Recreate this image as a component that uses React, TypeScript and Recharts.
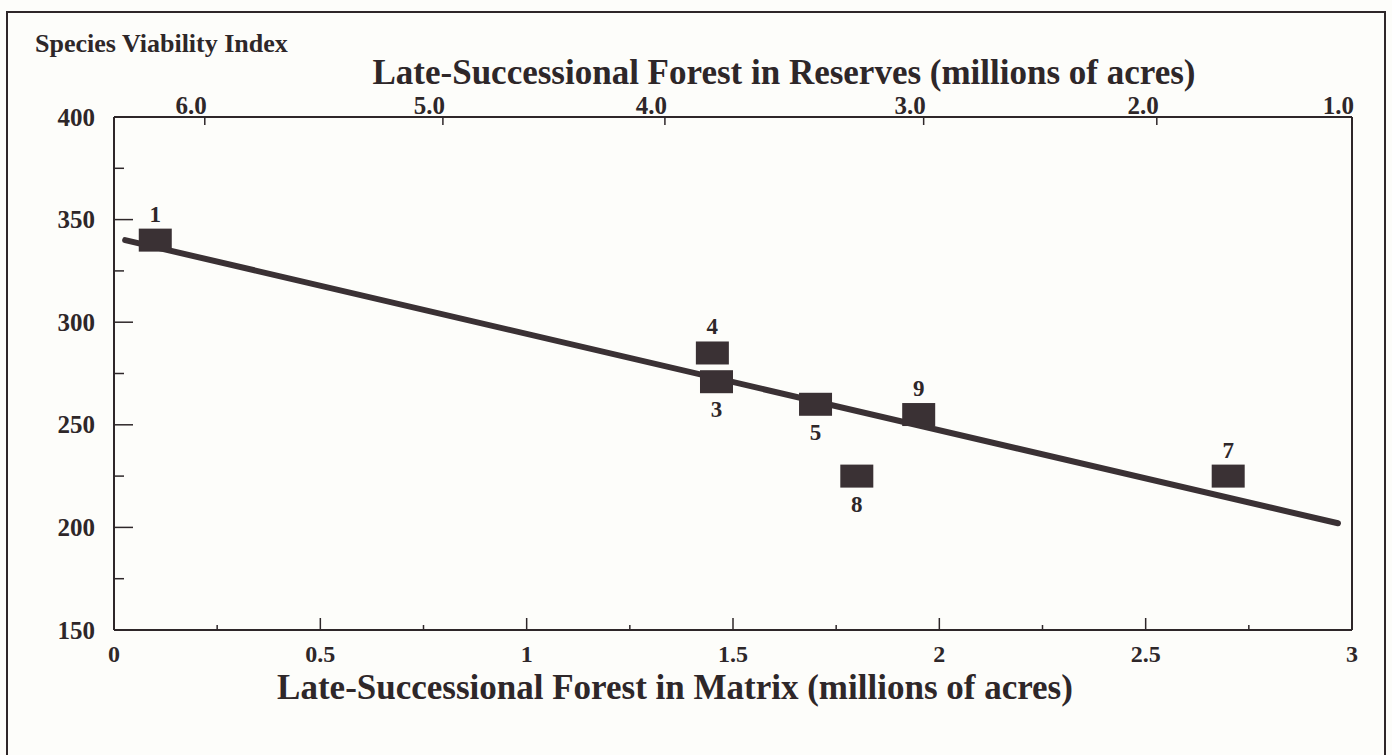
import React from 'react';
import { ComposedChart, Scatter, XAxis, YAxis } from 'recharts';

// ---- data ----
const alternativeLabels = ['1', '3', '4', '5', '7', '8', '9'];
const matrixAcres = [0.1, 1.46, 1.45, 1.7, 2.7, 1.8, 1.95];
const viabilityIndex = [340, 271, 285, 260, 225, 225, 255];
const labelSide = ['above', 'below', 'above', 'below', 'above', 'below', 'above'];

const trendMatrix = [0.027, 2.966];
const trendIndex = [340, 202];

const bottomTicks = [0, 0.25, 0.5, 0.75, 1, 1.25, 1.5, 1.75, 2, 2.25, 2.5, 2.75, 3];
const bottomTickLabels = ['0', '', '0.5', '', '1', '', '1.5', '', '2', '', '2.5', '', '3'];
const yTicks = [150, 175, 200, 225, 250, 275, 300, 325, 350, 375, 400];
const yTickLabels = ['150', '', '200', '', '250', '', '300', '', '350', '', '400'];
const reserveTickPositions = [0.22, 0.797, 1.335, 1.962, 2.527, 3.0];
const reserveTickLabels = ['6.0', '5.0', '4.0', '3.0', '2.0', '1.0'];

const points = alternativeLabels.map((label, i) => ({
  x: matrixAcres[i],
  y: viabilityIndex[i],
  label,
  side: labelSide[i],
}));
const trend = trendMatrix.map((x, i) => ({ x, y: trendIndex[i] }));

const INK = '#2e2729';
const MARK = '#3a3134';
const FONT = '"Liberation Serif", "Times New Roman", serif';

const YTick = (props: any) => {
  const { x, y, payload } = props;
  const idx = yTicks.indexOf(payload.value);
  const label = idx >= 0 ? yTickLabels[idx] : '';
  const major = label !== '';
  return (
    <g>
      <line x1={x} y1={y} x2={x + (major ? 19 : 10)} y2={y} stroke={INK} strokeWidth={1.5} />
      {major && (
        <text x={x - 19} y={y} textAnchor="end" dominantBaseline="central" fontFamily={FONT} fontWeight="bold" fontSize={25} fill={INK}>
          {label}
        </text>
      )}
    </g>
  );
};

const BottomTick = (props: any) => {
  const { x, y, payload } = props;
  const idx = bottomTicks.indexOf(payload.value);
  const label = idx >= 0 ? bottomTickLabels[idx] : '';
  const major = label !== '';
  return (
    <g>
      <line x1={x} y1={y} x2={x} y2={y - (major ? 12 : 5)} stroke={INK} strokeWidth={1.5} />
      {major && (
        <text x={x} y={y + 32} textAnchor="middle" fontFamily={FONT} fontWeight="bold" fontSize={24} fill={INK}>
          {label}
        </text>
      )}
    </g>
  );
};

const TopTick = (props: any) => {
  const { x, y, payload } = props;
  const idx = reserveTickPositions.indexOf(payload.value);
  const label = idx >= 0 ? reserveTickLabels[idx] : '';
  return (
    <g>
      <line x1={x} y1={y} x2={x} y2={y + 8} stroke={INK} strokeWidth={1.5} />
      <text x={x + 2} y={y - 3} textAnchor="end" fontFamily={FONT} fontWeight="bold" fontSize={25} fill={INK}>
        {label}
      </text>
    </g>
  );
};

const SquareMarker = (props: any) => {
  const { cx, cy, payload } = props;
  const w = 33;
  const h = 23;
  const above = payload.side === 'above';
  return (
    <g>
      <rect x={cx - w / 2} y={cy - h / 2} width={w} height={h} fill={MARK} />
      <text
        x={cx}
        y={above ? cy - h / 2 - 7 : cy + h / 2 + 24}
        textAnchor="middle"
        fontFamily={FONT}
        fontWeight="bold"
        fontSize={23}
        fill={INK}
      >
        {payload.label}
      </text>
    </g>
  );
};

const NoMarker = () => <g />;

export default function App() {
  return (
    <div style={{ position: 'absolute', left: 0, top: 0, width: 1392, height: 755, background: '#fdfdfa', overflow: 'hidden' }}>
      <div
        style={{
          position: 'absolute',
          left: 6,
          top: 11,
          width: 1376,
          height: 800,
          borderLeft: `2px solid ${INK}`,
          borderTop: `2px solid ${INK}`,
          borderRight: `2px solid ${INK}`,
        }}
      />
      <div style={{ position: 'absolute', left: 0, top: 0 }}>
        <ComposedChart width={1392} height={755} margin={{ top: 97, right: 39, bottom: 95, left: 54 }}>
          <XAxis
            xAxisId="bottom"
            dataKey="x"
            type="number"
            domain={[0, 3]}
            ticks={bottomTicks}
            interval={0}
            height={30}
            tickSize={0}
            tickMargin={0}
            tickLine={false}
            axisLine={{ stroke: INK, strokeWidth: 2 }}
            tick={<BottomTick />}
          />
          <XAxis
            xAxisId="top"
            orientation="top"
            dataKey="x"
            type="number"
            domain={[0, 3]}
            ticks={reserveTickPositions}
            interval={0}
            height={20}
            tickSize={0}
            tickMargin={0}
            tickLine={false}
            axisLine={{ stroke: INK, strokeWidth: 2 }}
            tick={<TopTick />}
          />
          <YAxis
            yAxisId="left"
            dataKey="y"
            type="number"
            domain={[150, 400]}
            ticks={yTicks}
            interval={0}
            width={60}
            tickSize={0}
            tickMargin={0}
            tickLine={false}
            axisLine={{ stroke: INK, strokeWidth: 2 }}
            tick={<YTick />}
          />
          <YAxis
            yAxisId="right"
            orientation="right"
            dataKey="y"
            type="number"
            domain={[150, 400]}
            width={1}
            tick={false}
            tickLine={false}
            axisLine={{ stroke: INK, strokeWidth: 2 }}
          />
          <Scatter
            xAxisId="top"
            yAxisId="left"
            data={trend}
            line={{ stroke: MARK, strokeWidth: 6, strokeLinecap: 'round' }}
            lineType="joint"
            shape={<NoMarker />}
            isAnimationActive={false}
          />
          <Scatter
            xAxisId="bottom"
            yAxisId="right"
            data={trend}
            shape={<NoMarker />}
            isAnimationActive={false}
          />
          <Scatter
            xAxisId="bottom"
            yAxisId="left"
            data={points}
            shape={<SquareMarker />}
            isAnimationActive={false}
          />
        </ComposedChart>
      </div>
      <svg width={1392} height={755} style={{ position: 'absolute', left: 0, top: 0, pointerEvents: 'none' }}>
        <text x={35} y={52} fontFamily={FONT} fontWeight="bold" fontSize={26} fill={INK}>
          Species Viability Index
        </text>
        <text x={784} y={84} textAnchor="middle" fontFamily={FONT} fontWeight="bold" fontSize={35} fill={INK}>
          Late-Successional Forest in Reserves (millions of acres)
        </text>
        <text x={675} y={699} textAnchor="middle" fontFamily={FONT} fontWeight="bold" fontSize={35} fill={INK}>
          Late-Successional Forest in Matrix (millions of acres)
        </text>
      </svg>
    </div>
  );
}
